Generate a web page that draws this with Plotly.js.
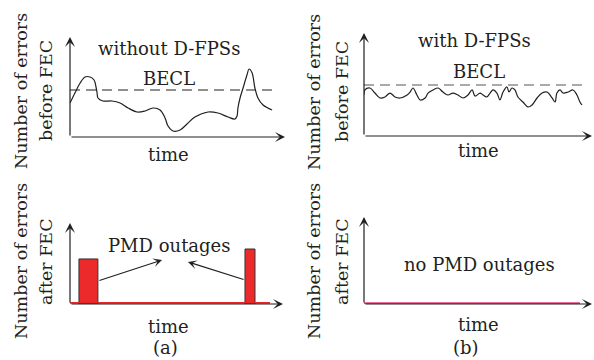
<!DOCTYPE html>
<html>
<head>
<meta charset="utf-8">
<script src="https://cdn.plot.ly/plotly-3.0.1.min.js"></script>
<style>html,body{margin:0;padding:0;background:#fff;}#chart{width:594px;height:360px;}</style>
</head>
<body>
<div id="chart"></div>
<script>
// ---- data (arbitrary units, schematic) ----
// (a) top: errors before FEC without D-FPSs
const timeA = [0, 2.3, 4.7, 7.0, 9.3, 11.2, 12.1, 12.6, 13.0, 15.3, 19.5, 23.3, 27.0, 31.2, 34.9, 38.6, 41.9, 44.2, 45.6, 47.9, 51.2, 54.4, 58.1, 64.2, 68.8, 73.5, 76.7, 77.7, 78.1, 79.1, 80.5, 82.3, 83.3, 84.7, 86.0, 87.4, 89.8, 94.0];
const errorsA = [34, 44, 54, 60, 60, 57, 50, 44, 39, 36, 36, 34, 29, 25, 26, 29, 27, 19, 11, 6, 7, 13, 20, 25, 24, 20, 18, 21, 29, 39, 49, 62, 68, 64, 49, 39, 32, 27];
const beclTimeA = [0, 94];
const beclA = [47, 47];

// (b) top: errors before FEC with D-FPSs
const timeB = [0, 0.4, 2.6, 4.8, 7.0, 9.2, 11.4, 13.6, 15.8, 18.9, 20.2, 21.5, 23.2, 24.6, 26.8, 28.1, 30.3, 32.5, 34.6, 36.8, 39.0, 41.2, 43.4, 45.6, 47.4, 48.7, 50.9, 52.2, 53.9, 55.3, 56.6, 58.3, 59.6, 61.0, 62.7, 63.6, 64.9, 66.2, 67.5, 69.7, 71.9, 73.7, 75.9, 78.1, 80.3, 82.5, 83.8, 84.6, 86.0, 87.3, 89.5, 91.7, 93.4, 94.7, 95.6];
const errorsB = [39.8, 44.7, 46.6, 41.7, 36.9, 37.9, 41.7, 37.9, 36.9, 39.8, 42.7, 46.6, 39.8, 35.0, 36.9, 41.7, 44.7, 46.6, 42.7, 39.8, 41.7, 39.8, 36.9, 39.8, 44.7, 38.8, 41.7, 39.8, 37.9, 41.7, 44.7, 41.7, 35.0, 42.7, 47.6, 42.7, 46.6, 44.7, 37.9, 33.0, 28.2, 30.1, 36.9, 41.7, 42.7, 36.9, 33.0, 41.7, 44.7, 41.7, 42.7, 44.7, 39.8, 33.0, 30.1];
const beclTimeB = [0, 96.5];
const beclB = [49.5, 49.5];

// (a) bottom: errors after FEC (PMD outages)
const outageTimes = [8.65, 84.5];
const outageWidths = [8.9, 4.7];
const outageErrors = [55.6, 67.9];
const baseTimeA = [0, 93.9];
const baseA = [1.3, 1.3];

// (b) bottom: no outages
const baseTimeB = [0, 94.7];
const baseB = [0.9, 0.9];

// ---- layout helpers ----
const W = 594, H = 360;
const ink = '#231f20';
const FONT = 'DejaVu Serif, Liberation Serif, serif';
const px = v => v / W;
const py = v => 1 - v / H;

const traces = [
  {x: timeA, y: errorsA, xaxis: 'x', yaxis: 'y', mode: 'lines', line: {color: ink, width: 1.2, shape: 'spline', smoothing: 1}},
  {x: beclTimeA, y: beclA, xaxis: 'x', yaxis: 'y', mode: 'lines', line: {color: ink, width: 1.1, dash: '10px,6px'}},
  {x: timeB, y: errorsB, xaxis: 'x2', yaxis: 'y2', mode: 'lines', line: {color: ink, width: 1.2, shape: 'spline', smoothing: 1}},
  {x: beclTimeB, y: beclB, xaxis: 'x2', yaxis: 'y2', mode: 'lines', line: {color: '#555', width: 1.1, dash: '10px,6px'}},
  {x: baseTimeA, y: baseA, xaxis: 'x3', yaxis: 'y3', mode: 'lines', line: {color: '#e8262a', width: 1.8}},
  {type: 'bar', x: outageTimes, y: outageErrors, width: outageWidths, xaxis: 'x3', yaxis: 'y3', base: 0,
   marker: {color: '#ec2a2c', line: {color: '#333', width: 1}}},
  {x: baseTimeB, y: baseB, xaxis: 'x4', yaxis: 'y4', mode: 'lines', line: {color: '#ea3f7e', width: 1.8}}
];

function ax(domain) {
  return {domain: domain, range: [0, 100], visible: false, fixedrange: true};
}

function axisArrows(xr, yr) {
  const common = {xref: xr, yref: yr, axref: xr, ayref: yr, text: '', showarrow: true,
    arrowhead: 3, arrowsize: 1.4, arrowwidth: 1.2, arrowcolor: ink, ax: 0, ay: 0};
  return [Object.assign({x: 100, y: 0}, common), Object.assign({x: 0, y: 100}, common)];
}

function label(text, x, y, angle, size) {
  return {xref: 'paper', yref: 'paper', x: px(x), y: py(y), text: text, showarrow: false,
    xanchor: 'center', yanchor: 'middle', textangle: angle || 0,
    font: {family: FONT, size: size || 18, color: ink}};
}

const annotations = [].concat(
  axisArrows('x', 'y'), axisArrows('x2', 'y2'), axisArrows('x3', 'y3'), axisArrows('x4', 'y4'),
  [
    {xref: 'x3', yref: 'y3', axref: 'x3', ayref: 'y3', x: 43.2, y: 54.3, ax: 13.1, ay: 28.4, text: '', showarrow: true,
     arrowhead: 3, arrowsize: 1.25, arrowwidth: 1.2, arrowcolor: ink},
    {xref: 'x3', yref: 'y3', axref: 'x3', ayref: 'y3', x: 55.4, y: 51.9, ax: 82.2, ay: 29.6, text: '', showarrow: true,
     arrowhead: 3, arrowsize: 1.25, arrowwidth: 1.2, arrowcolor: ink},
    label('without D-FPSs', 169, 49),
    label('BECL', 169, 78),
    label('time', 168, 154),
    label('Number of errors', 21, 91, -90, 17.5),
    label('before FEC', 46, 91, -90, 17.5),
    label('with D-FPSs', 474, 40),
    label('BECL', 479, 72),
    label('time', 478, 150),
    label('Number of errors', 314, 92, -90, 17.5),
    label('before FEC', 342, 92, -90, 17.5),
    label('PMD outages', 169, 245),
    label('time', 168, 326),
    label('(a)', 165, 347),
    label('Number of errors', 21, 261, -90, 17.5),
    label('after FEC', 46, 262, -90, 17.5),
    label('no PMD outages', 479, 264),
    label('time', 478, 324),
    label('(b)', 466, 347),
    label('Number of errors', 314, 261, -90, 17.5),
    label('after FEC', 342, 262, -90, 17.5)
  ]
);

const layout = {
  width: W, height: H,
  margin: {l: 0, r: 0, t: 0, b: 0},
  paper_bgcolor: '#fff', plot_bgcolor: 'rgba(0,0,0,0)',
  showlegend: false,
  xaxis: ax([px(70), px(285)]),
  yaxis: ax([py(137), py(37)]),
  xaxis2: ax([px(364), px(592)]),
  yaxis2: ax([py(136), py(33)]),
  xaxis3: ax([px(70), px(283)]),
  yaxis3: ax([py(304), py(223)]),
  xaxis4: ax([px(364), px(592)]),
  yaxis4: ax([py(304), py(217)]),
  annotations: annotations
};

Plotly.newPlot('chart', traces, layout, {staticPlot: true, displayModeBar: false});
</script>
</body>
</html>
